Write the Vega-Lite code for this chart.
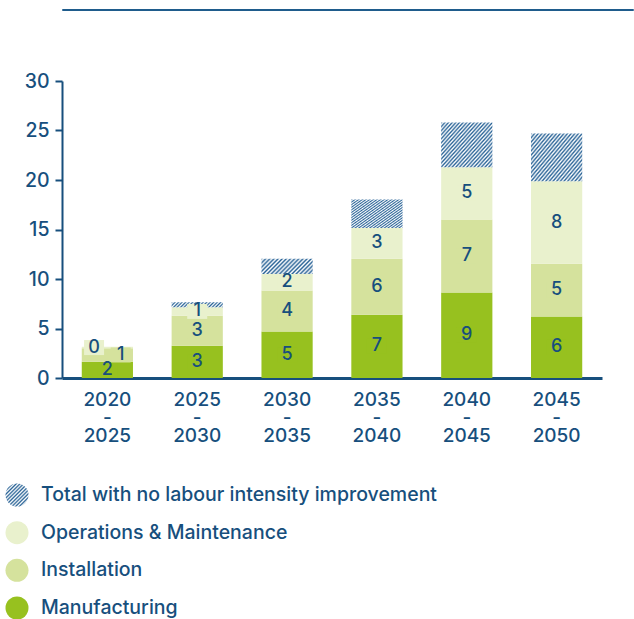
{
  "$schema": "https://vega.github.io/schema/vega-lite/v6.json",
  "padding": {"left": -5, "top": 8, "right": 0, "bottom": 0},
  "config": {"font": "Inter", "view": {"stroke": null}},
  "columns": 1,
  "align": "none",
  "spacing": 60,
  "concat": [
    {
      "width": 571,
      "height": 1,
      "data": {"values": []},
      "mark": {"type": "rule"},
      "encoding": {},
      "view": {"stroke": "#1f5c8c", "strokeWidth": 1}
    },
    {
      "columns": 1,
      "spacing": 28,
      "concat": [
        {
          "width": 540,
          "height": 297,
          "view": {"stroke": null},
          "data": {
            "values": [
              {"period": "2020-2025", "category": "Manufacturing", "rank": 1, "value": 1.65, "label": 2},
              {"period": "2020-2025", "category": "Installation", "rank": 2, "value": 1.35, "label": 1},
              {"period": "2020-2025", "category": "Operations & Maintenance", "rank": 3, "value": 0.15, "label": 0},
              {"period": "2020-2025", "category": "Total with no labour intensity improvement", "rank": 4, "value": 0, "label": null},
              {"period": "2025-2030", "category": "Manufacturing", "rank": 1, "value": 3.27, "label": 3},
              {"period": "2025-2030", "category": "Installation", "rank": 2, "value": 3.03, "label": 3},
              {"period": "2025-2030", "category": "Operations & Maintenance", "rank": 3, "value": 0.85, "label": 1},
              {"period": "2025-2030", "category": "Total with no labour intensity improvement", "rank": 4, "value": 0.51, "label": null},
              {"period": "2030-2035", "category": "Manufacturing", "rank": 1, "value": 4.69, "label": 5},
              {"period": "2030-2035", "category": "Installation", "rank": 2, "value": 4.15, "label": 4},
              {"period": "2030-2035", "category": "Operations & Maintenance", "rank": 3, "value": 1.66, "label": 2},
              {"period": "2030-2035", "category": "Total with no labour intensity improvement", "rank": 4, "value": 1.54, "label": null},
              {"period": "2035-2040", "category": "Manufacturing", "rank": 1, "value": 6.38, "label": 7},
              {"period": "2035-2040", "category": "Installation", "rank": 2, "value": 5.66, "label": 6},
              {"period": "2035-2040", "category": "Operations & Maintenance", "rank": 3, "value": 3.11, "label": 3},
              {"period": "2035-2040", "category": "Total with no labour intensity improvement", "rank": 4, "value": 2.87, "label": null},
              {"period": "2040-2045", "category": "Manufacturing", "rank": 1, "value": 8.63, "label": 9},
              {"period": "2040-2045", "category": "Installation", "rank": 2, "value": 7.37, "label": 7},
              {"period": "2040-2045", "category": "Operations & Maintenance", "rank": 3, "value": 5.3, "label": 5},
              {"period": "2040-2045", "category": "Total with no labour intensity improvement", "rank": 4, "value": 4.5, "label": null},
              {"period": "2045-2050", "category": "Manufacturing", "rank": 1, "value": 6.2, "label": 6},
              {"period": "2045-2050", "category": "Installation", "rank": 2, "value": 5.34, "label": 5},
              {"period": "2045-2050", "category": "Operations & Maintenance", "rank": 3, "value": 8.33, "label": 8},
              {"period": "2045-2050", "category": "Total with no labour intensity improvement", "rank": 4, "value": 4.83, "label": null}
            ]
          },
          "encoding": {
            "x": {
              "field": "period", "type": "nominal", "sort": null, "title": null,
              "scale": {"paddingInner": 0.43, "paddingOuter": 0.22},
              "axis": {
                "labelAngle": 0, "ticks": false, "domainColor": "#174f7d", "domainWidth": 3,
                "labelExpr": "[slice(datum.label,0,4),'-',slice(datum.label,5)]",
                "labelFont": "Inter", "labelFontSize": 19, "labelFontWeight": 500, "labelColor": "#174f7d",
                "labelPadding": 12, "labelBaseline": "top", "labelLineHeight": 18
              }
            }
          },
          "layer": [
            {
              "mark": {"type": "bar", "strokeWidth": 0},
              "encoding": {
                "y": {
                  "field": "value", "type": "quantitative", "stack": "zero", "title": null,
                  "scale": {"domain": [0, 30], "nice": false},
                  "axis": {
                    "values": [0, 5, 10, 15, 20, 25, 30], "grid": false,
                    "domainColor": "#174f7d", "domainWidth": 2, "tickColor": "#174f7d", "tickWidth": 2, "tickSize": 7,
                    "labelFont": "Inter", "labelFontSize": 19.5, "labelFontWeight": 500, "labelColor": "#174f7d", "labelPadding": 6
                  }
                },
                "order": {"field": "rank", "type": "quantitative"},
                "fill": {
                  "field": "category", "type": "nominal",
                  "scale": {
                    "domain": ["Total with no labour intensity improvement", "Operations & Maintenance", "Installation", "Manufacturing"],
                    "range": ["#7f9fc0", "#e9f1cd", "#d5e29d", "#97c11f"]
                  },
                  "legend": null,
                  "condition": [
                    {
                      "test": "datum.rank === 4 && (datum.period === '2035-2040' || datum.period === '2040-2045' || datum.period === '2045-2050')",
                      "value": {
                        "gradient": "linear", "x1": 0, "y1": 0, "x2": 1.105, "y2": 0.866,
                        "stops": [
                          {"offset": 0, "color": "#2a6497"}, {"offset": 0.02, "color": "#ffffff"},
                          {"offset": 0.04, "color": "#2a6497"}, {"offset": 0.06, "color": "#ffffff"},
                          {"offset": 0.08, "color": "#2a6497"}, {"offset": 0.1, "color": "#ffffff"},
                          {"offset": 0.12, "color": "#2a6497"}, {"offset": 0.14, "color": "#ffffff"},
                          {"offset": 0.16, "color": "#2a6497"}, {"offset": 0.18, "color": "#ffffff"},
                          {"offset": 0.2, "color": "#2a6497"}, {"offset": 0.22, "color": "#ffffff"},
                          {"offset": 0.24, "color": "#2a6497"}, {"offset": 0.26, "color": "#ffffff"},
                          {"offset": 0.28, "color": "#2a6497"}, {"offset": 0.3, "color": "#ffffff"},
                          {"offset": 0.32, "color": "#2a6497"}, {"offset": 0.34, "color": "#ffffff"},
                          {"offset": 0.36, "color": "#2a6497"}, {"offset": 0.38, "color": "#ffffff"},
                          {"offset": 0.4, "color": "#2a6497"}, {"offset": 0.42, "color": "#ffffff"},
                          {"offset": 0.44, "color": "#2a6497"}, {"offset": 0.46, "color": "#ffffff"},
                          {"offset": 0.48, "color": "#2a6497"}, {"offset": 0.5, "color": "#ffffff"},
                          {"offset": 0.52, "color": "#2a6497"}, {"offset": 0.54, "color": "#ffffff"},
                          {"offset": 0.56, "color": "#2a6497"}, {"offset": 0.58, "color": "#ffffff"},
                          {"offset": 0.6, "color": "#2a6497"}, {"offset": 0.62, "color": "#ffffff"},
                          {"offset": 0.64, "color": "#2a6497"}, {"offset": 0.66, "color": "#ffffff"},
                          {"offset": 0.68, "color": "#2a6497"}, {"offset": 0.7, "color": "#ffffff"},
                          {"offset": 0.72, "color": "#2a6497"}, {"offset": 0.74, "color": "#ffffff"},
                          {"offset": 0.76, "color": "#2a6497"}, {"offset": 0.78, "color": "#ffffff"},
                          {"offset": 0.8, "color": "#2a6497"}, {"offset": 0.82, "color": "#ffffff"},
                          {"offset": 0.84, "color": "#2a6497"}, {"offset": 0.86, "color": "#ffffff"},
                          {"offset": 0.88, "color": "#2a6497"}, {"offset": 0.9, "color": "#ffffff"},
                          {"offset": 0.92, "color": "#2a6497"}, {"offset": 0.94, "color": "#ffffff"},
                          {"offset": 0.96, "color": "#2a6497"}, {"offset": 0.98, "color": "#ffffff"},
                          {"offset": 1, "color": "#2a6497"}
                        ]
                      }
                    },
                    {
                      "test": "datum.rank === 4 && datum.period === '2030-2035'",
                      "value": {
                        "gradient": "linear", "x1": 0, "y1": 0, "x2": 1.191, "y2": 0.35,
                        "stops": [
                          {"offset": 0, "color": "#2a6497"}, {"offset": 0.03125, "color": "#ffffff"},
                          {"offset": 0.0625, "color": "#2a6497"}, {"offset": 0.09375, "color": "#ffffff"},
                          {"offset": 0.125, "color": "#2a6497"}, {"offset": 0.15625, "color": "#ffffff"},
                          {"offset": 0.1875, "color": "#2a6497"}, {"offset": 0.21875, "color": "#ffffff"},
                          {"offset": 0.25, "color": "#2a6497"}, {"offset": 0.28125, "color": "#ffffff"},
                          {"offset": 0.3125, "color": "#2a6497"}, {"offset": 0.34375, "color": "#ffffff"},
                          {"offset": 0.375, "color": "#2a6497"}, {"offset": 0.40625, "color": "#ffffff"},
                          {"offset": 0.4375, "color": "#2a6497"}, {"offset": 0.46875, "color": "#ffffff"},
                          {"offset": 0.5, "color": "#2a6497"}, {"offset": 0.53125, "color": "#ffffff"},
                          {"offset": 0.5625, "color": "#2a6497"}, {"offset": 0.59375, "color": "#ffffff"},
                          {"offset": 0.625, "color": "#2a6497"}, {"offset": 0.65625, "color": "#ffffff"},
                          {"offset": 0.6875, "color": "#2a6497"}, {"offset": 0.71875, "color": "#ffffff"},
                          {"offset": 0.75, "color": "#2a6497"}, {"offset": 0.78125, "color": "#ffffff"},
                          {"offset": 0.8125, "color": "#2a6497"}, {"offset": 0.84375, "color": "#ffffff"},
                          {"offset": 0.875, "color": "#2a6497"}, {"offset": 0.90625, "color": "#ffffff"},
                          {"offset": 0.9375, "color": "#2a6497"}, {"offset": 0.96875, "color": "#ffffff"},
                          {"offset": 1, "color": "#2a6497"}
                        ]
                      }
                    },
                    {
                      "test": "datum.rank === 4 && datum.period === '2025-2030'",
                      "value": {
                        "gradient": "linear", "x1": 0, "y1": 0, "x2": 1.088, "y2": 0.107,
                        "stops": [
                          {"offset": 0, "color": "#2a6497"}, {"offset": 0.03125, "color": "#ffffff"},
                          {"offset": 0.0625, "color": "#2a6497"}, {"offset": 0.09375, "color": "#ffffff"},
                          {"offset": 0.125, "color": "#2a6497"}, {"offset": 0.15625, "color": "#ffffff"},
                          {"offset": 0.1875, "color": "#2a6497"}, {"offset": 0.21875, "color": "#ffffff"},
                          {"offset": 0.25, "color": "#2a6497"}, {"offset": 0.28125, "color": "#ffffff"},
                          {"offset": 0.3125, "color": "#2a6497"}, {"offset": 0.34375, "color": "#ffffff"},
                          {"offset": 0.375, "color": "#2a6497"}, {"offset": 0.40625, "color": "#ffffff"},
                          {"offset": 0.4375, "color": "#2a6497"}, {"offset": 0.46875, "color": "#ffffff"},
                          {"offset": 0.5, "color": "#2a6497"}, {"offset": 0.53125, "color": "#ffffff"},
                          {"offset": 0.5625, "color": "#2a6497"}, {"offset": 0.59375, "color": "#ffffff"},
                          {"offset": 0.625, "color": "#2a6497"}, {"offset": 0.65625, "color": "#ffffff"},
                          {"offset": 0.6875, "color": "#2a6497"}, {"offset": 0.71875, "color": "#ffffff"},
                          {"offset": 0.75, "color": "#2a6497"}, {"offset": 0.78125, "color": "#ffffff"},
                          {"offset": 0.8125, "color": "#2a6497"}, {"offset": 0.84375, "color": "#ffffff"},
                          {"offset": 0.875, "color": "#2a6497"}, {"offset": 0.90625, "color": "#ffffff"},
                          {"offset": 0.9375, "color": "#2a6497"}, {"offset": 0.96875, "color": "#ffffff"},
                          {"offset": 1, "color": "#2a6497"}
                        ]
                      }
                    }
                  ]
                }
              }
            },
            {
              "transform": [
                {"stack": "value", "groupby": ["period"], "sort": [{"field": "rank", "order": "ascending"}], "as": ["v0", "v1"]},
                {"filter": "datum.label != null"},
                {"calculate": "(datum.v0 + datum.v1) / 2", "as": "mid"}
              ],
              "encoding": {"y": {"field": "mid", "type": "quantitative", "title": null}},
              "layer": [
                {
                  "transform": [{"filter": "!(datum.period === '2020-2025' && (datum.rank === 2 || datum.rank === 3))"}],
                  "mark": {"type": "point", "shape": "M-1,-0.75L1,-0.75L1,0.75L-1,0.75Z", "size": 400, "filled": true, "opacity": 1, "strokeWidth": 0},
                  "encoding": {
                    "fill": {
                      "condition": [
                        {"test": "datum.rank === 1", "value": "#97c11f"},
                        {"test": "datum.rank === 2", "value": "#d5e29d"}
                      ],
                      "value": "#e9f1cd"
                    }
                  }
                },
                {
                  "transform": [{"filter": "datum.period === '2020-2025' && datum.rank === 3"}],
                  "mark": {"type": "point", "shape": "M-1,-0.75L1,-0.75L1,0.75L-1,0.75Z", "size": 400, "filled": true, "opacity": 1, "strokeWidth": 0, "fill": "#e9f1cd"},
                  "encoding": {"x": {"field": "period", "type": "nominal", "bandPosition": 0.24}}
                },
                {
                  "transform": [{"filter": "datum.period === '2020-2025' && datum.rank === 2"}],
                  "mark": {"type": "point", "shape": "M-1,-0.75L1,-0.75L1,0.75L-1,0.75Z", "size": 400, "filled": true, "opacity": 1, "strokeWidth": 0, "fill": "#d5e29d"},
                  "encoding": {"x": {"field": "period", "type": "nominal", "bandPosition": 0.76}}
                },
                {
                  "transform": [{"filter": "!(datum.period === '2020-2025' && (datum.rank === 2 || datum.rank === 3))"}],
                  "mark": {"type": "text", "font": "Inter", "fontSize": 18, "fontWeight": 500, "fill": "#174f7d", "baseline": "middle"},
                  "encoding": {"text": {"field": "label", "type": "quantitative"}}
                },
                {
                  "transform": [{"filter": "datum.period === '2020-2025' && datum.rank === 3"}],
                  "mark": {"type": "text", "font": "Inter", "fontSize": 18, "fontWeight": 500, "fill": "#174f7d", "baseline": "middle"},
                  "encoding": {"x": {"field": "period", "type": "nominal", "bandPosition": 0.24}, "text": {"field": "label", "type": "quantitative"}}
                },
                {
                  "transform": [{"filter": "datum.period === '2020-2025' && datum.rank === 2"}],
                  "mark": {"type": "text", "font": "Inter", "fontSize": 18, "fontWeight": 500, "fill": "#174f7d", "baseline": "middle"},
                  "encoding": {"x": {"field": "period", "type": "nominal", "bandPosition": 0.76}, "text": {"field": "label", "type": "quantitative"}}
                }
              ]
            }
          ]
        },
        {
          "width": 45,
          "height": 113,
          "view": {"stroke": null},
          "data": {
            "values": [
              {"category": "Total with no labour intensity improvement"},
              {"category": "Operations & Maintenance"},
              {"category": "Installation"},
              {"category": "Manufacturing"}
            ]
          },
          "encoding": {
            "y": {"field": "category", "type": "nominal", "sort": null, "scale": {"type": "point", "padding": 0}, "axis": null},
            "x": {"datum": 0, "type": "quantitative", "scale": {"domain": [1, 2], "zero": false, "nice": false}, "axis": null}
          },
          "layer": [
            {
              "mark": {"type": "point", "shape": "circle", "size": 529, "filled": true, "opacity": 1, "stroke": "transparent", "strokeWidth": 5},
              "encoding": {
                "fill": {
                  "condition": [
                    {
                      "test": "datum.category === 'Total with no labour intensity improvement'",
                      "value": {
                        "gradient": "linear", "x1": 0, "y1": 0, "x2": 1, "y2": 1,
                        "stops": [
                          {"offset": 0, "color": "#2a6497"}, {"offset": 0.04, "color": "#ffffff"},
                          {"offset": 0.08, "color": "#2a6497"}, {"offset": 0.12, "color": "#ffffff"},
                          {"offset": 0.16, "color": "#2a6497"}, {"offset": 0.2, "color": "#ffffff"},
                          {"offset": 0.24, "color": "#2a6497"}, {"offset": 0.28, "color": "#ffffff"},
                          {"offset": 0.32, "color": "#2a6497"}, {"offset": 0.36, "color": "#ffffff"},
                          {"offset": 0.4, "color": "#2a6497"}, {"offset": 0.44, "color": "#ffffff"},
                          {"offset": 0.48, "color": "#2a6497"}, {"offset": 0.52, "color": "#ffffff"},
                          {"offset": 0.56, "color": "#2a6497"}, {"offset": 0.6, "color": "#ffffff"},
                          {"offset": 0.64, "color": "#2a6497"}, {"offset": 0.68, "color": "#ffffff"},
                          {"offset": 0.72, "color": "#2a6497"}, {"offset": 0.76, "color": "#ffffff"},
                          {"offset": 0.8, "color": "#2a6497"}, {"offset": 0.84, "color": "#ffffff"},
                          {"offset": 0.88, "color": "#2a6497"}, {"offset": 0.92, "color": "#ffffff"},
                          {"offset": 0.96, "color": "#2a6497"}, {"offset": 1, "color": "#ffffff"}
                        ]
                      }
                    },
                    {"test": "datum.category === 'Operations & Maintenance'", "value": "#e9f1cd"},
                    {"test": "datum.category === 'Installation'", "value": "#d5e29d"}
                  ],
                  "value": "#97c11f"
                }
              }
            },
            {
              "mark": {"type": "text", "align": "left", "baseline": "middle", "dx": 24, "font": "Inter", "fontSize": 19.5, "fontWeight": 500, "fill": "#174f7d"},
              "encoding": {"text": {"field": "category", "type": "nominal"}}
            }
          ]
        }
      ]
    }
  ]
}
